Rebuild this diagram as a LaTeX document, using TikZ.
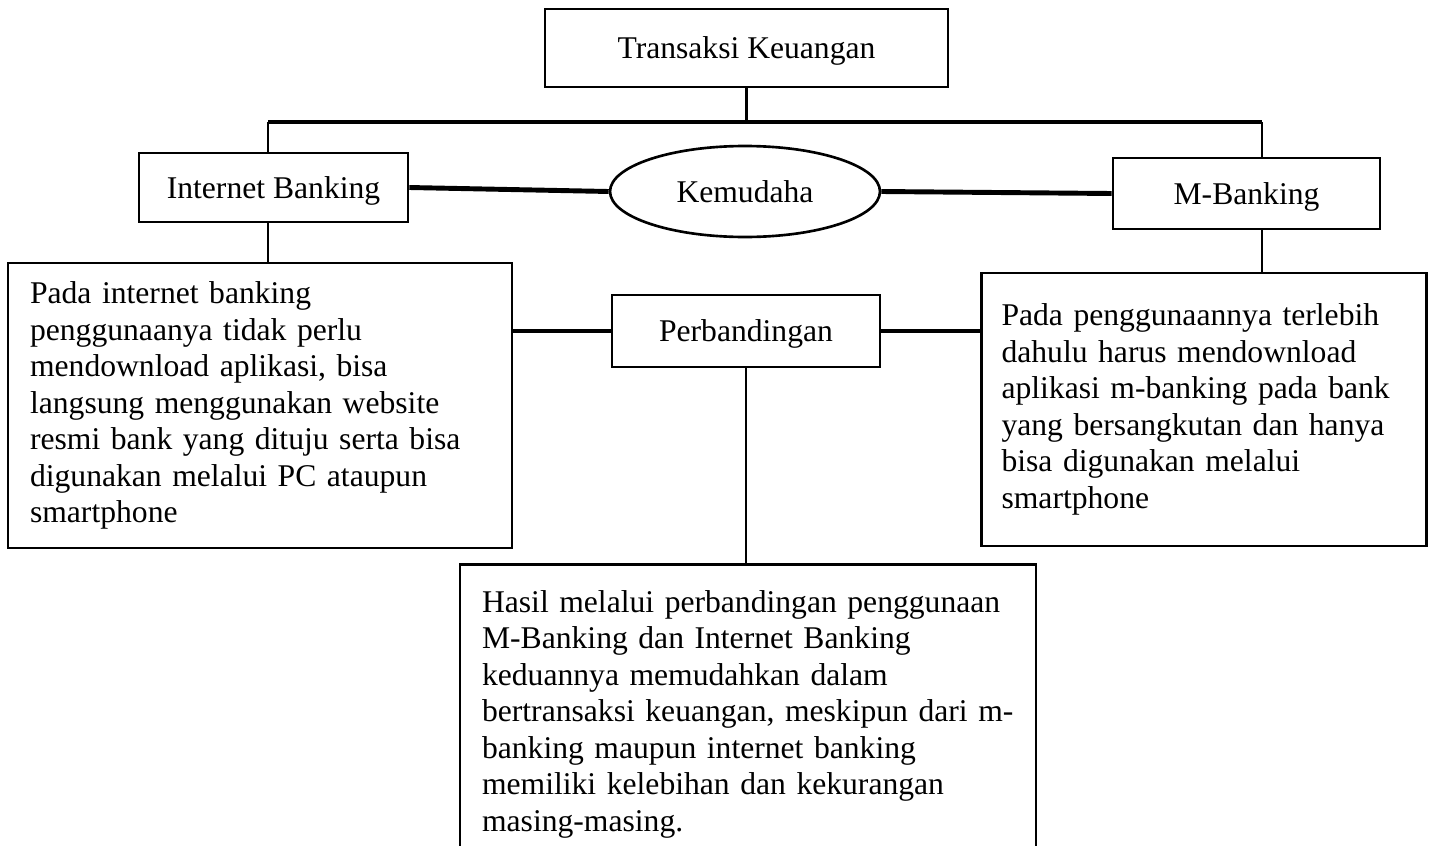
\documentclass[tikz,border=0pt]{standalone}
\usepackage{fontspec}
\setmainfont{Liberation Serif}
\usetikzlibrary{shapes.geometric}
\begin{document}
\begin{tikzpicture}[x=0.02cm,y=-0.02cm,
  box/.style={draw,line width=1.5pt,inner sep=0pt,text height=12pt,text depth=0pt,font=\fontsize{18}{20.8}\selectfont},
  textbox/.style={draw,line width=1.5pt,inner xsep=0.44cm,inner ysep=0pt,align=left,font=\fontsize{18}{20.8}\selectfont},
  thin/.style={line width=1.4pt},
  bold/.style={line width=2.8pt}]
\useasboundingbox (0,0) rectangle (1433,845);
% boxes
\node[box,minimum width=8.06cm,minimum height=1.56cm] (trans) at (746.5,48) {Transaksi Keuangan};
\node[box,minimum width=5.38cm,minimum height=1.38cm] (ib) at (273.5,187.5) {Internet Banking};
\node[box,minimum width=5.34cm,minimum height=1.42cm] (mb) at (1246.5,193.5) {M-Banking};
\node[box,ellipse,minimum width=5.4cm,minimum height=1.82cm] (mudah) at (745,191.5) {Kemudaha};
\node[box,minimum width=5.36cm,minimum height=1.44cm] (banding) at (746,331) {Perbandingan};
\node[textbox,text width=9.2cm,minimum height=5.7cm] (ibtext) at (260,405.5) {Pada internet banking\\
penggunaanya tidak perlu\\
mendownload aplikasi, bisa\\
langsung menggunakan website\\
resmi bank yang dituju serta bisa\\
digunakan melalui PC ataupun\\
smartphone};
\node[textbox,text width=8.1cm,minimum height=5.46cm,inner xsep=0.4cm] (mbtext) at (1204,409.5) {Pada penggunaannya terlebih\\
dahulu harus mendownload\\
aplikasi m-banking pada bank\\
yang bersangkutan dan hanya\\
bisa digunakan melalui\\
smartphone};
\node[textbox,text width=10.64cm,minimum height=6.0cm,anchor=north] (hasil) at (748,563) {Hasil melalui perbandingan penggunaan\\
M-Banking dan Internet Banking\\
keduannya memudahkan dalam\\
bertransaksi keuangan, meskipun dari m-\\
banking maupun internet banking\\
memiliki kelebihan dan kekurangan\\
masing-masing.};
% connectors
\coordinate (barL) at (268,122);
\coordinate (barR) at (1262,122);
\draw[bold] (barL) -- (barR);
\draw[thin] (trans.south) -- (trans.south |- barL);
\draw[thin] (barL) -- (barL |- ib.north);
\draw[thin] (barR) -- (barR |- mb.north);
\draw[thin] (barL |- ib.south) -- (barL |- ibtext.north);
\draw[thin] (barR |- mb.south) -- (barR |- mbtext.north);
\draw[bold] (ib.east) -- (mudah.west);
\draw[bold] (mudah.east) -- (mb.west);
\draw[bold] (banding.west -| ibtext.east) -- (banding.west);
\draw[bold] (banding.east) -- (banding.east -| mbtext.west);
\draw[thin] (banding.south) -- (banding.south |- hasil.north);
\end{tikzpicture}
\end{document}
